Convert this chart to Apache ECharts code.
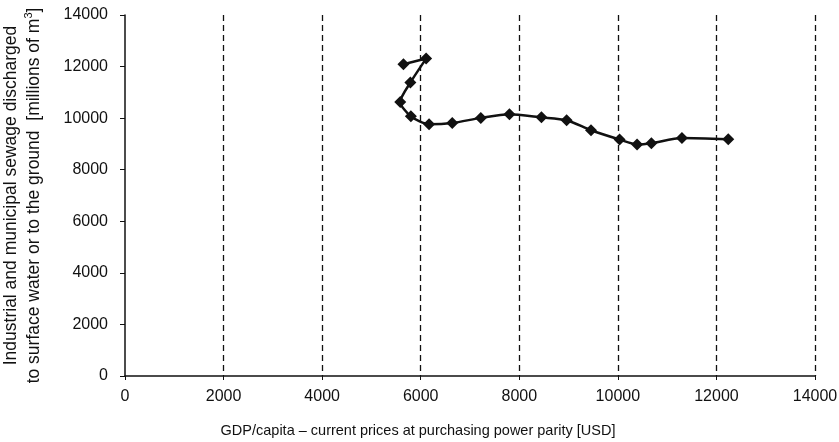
<!DOCTYPE html>
<html>
<head>
<meta charset="utf-8">
<script src="https://cdn.jsdelivr.net/npm/echarts@6/dist/echarts.min.js"></script>
<style>
  html, body { margin: 0; padding: 0; background: #fff; }
  #chart { width: 839px; height: 442px; }
</style>
</head>
<body>
<div id="chart"></div>
<script>
// GDP per capita (PPP, USD) and sewage discharged (millions of m3), in time order
const gdpPerCapita = [5650, 6110, 5790, 5585, 5800, 6170, 6640, 7220, 7800, 8450, 8960, 9455, 10035, 10390, 10680, 11300, 12240];
const sewage = [12090, 12310, 11380, 10630, 10070, 9760, 9810, 10010, 10150, 10030, 9920, 9530, 9170, 8980, 9030, 9230, 9180];
const xTicks = [0, 2000, 4000, 6000, 8000, 10000, 12000, 14000];
const yTicks = [0, 2000, 4000, 6000, 8000, 10000, 12000, 14000];

const points = gdpPerCapita.map((g, i) => [g, sewage[i]]);
const font = 'Liberation Sans, Arial, sans-serif';
const plain = v => String(v);

const chart = echarts.init(document.getElementById('chart'));
chart.setOption({
  animation: false,
  grid: { left: 125, right: 24, top: 15, bottom: 66, containLabel: false, outerBoundsMode: 'none' },
  xAxis: {
    type: 'value',
    min: xTicks[0],
    max: xTicks[xTicks.length - 1],
    interval: 2000,
    name: 'GDP/capita \u2013 current prices at purchasing power parity [USD]',
    nameLocation: 'middle',
    nameGap: 47,
    // title sits a little left of the axis centre
    nameTextStyle: { color: '#111', fontFamily: font, fontSize: 14.5, padding: [0, 104, 0, 0] },
    axisLine: { show: true, lineStyle: { color: '#111', width: 1.5 } },
    axisTick: { show: true, length: 4, lineStyle: { color: '#111' } },
    axisLabel: { color: '#111', fontFamily: font, fontSize: 16, margin: 13, formatter: plain },
    splitLine: { show: true, showMinLine: false, lineStyle: { color: '#111', type: [6, 4], width: 1.3 } }
  },
  yAxis: {
    type: 'value',
    min: yTicks[0],
    max: yTicks[yTicks.length - 1],
    interval: 2000,
    name: '{t|Industrial and municipal sewage discharged}\n{t|to surface water or to the ground  [millions of m}{s|3}{t|]}',
    nameLocation: 'middle',
    nameRotate: 90,
    nameGap: 79,
    nameTextStyle: {
      color: '#111', fontFamily: font, fontSize: 17.5, lineHeight: 23,
      rich: {
        t: { color: '#111', fontFamily: font, fontSize: 17.5, lineHeight: 23 },
        s: { color: '#111', fontFamily: font, fontSize: 11, verticalAlign: 'top', lineHeight: 23 }
      }
    },
    axisLine: { show: true, lineStyle: { color: '#111', width: 1.5 } },
    axisTick: { show: true, length: 5, lineStyle: { color: '#111' } },
    axisLabel: { color: '#111', fontFamily: font, fontSize: 16, margin: 17, formatter: plain },
    splitLine: { show: false }
  },
  series: [{
    type: 'line',
    data: points,
    smooth: 0.25,
    symbol: 'diamond',
    symbolSize: 12,
    lineStyle: { color: '#111', width: 2.5 },
    itemStyle: { color: '#111' }
  }]
});
</script>
</body>
</html>
